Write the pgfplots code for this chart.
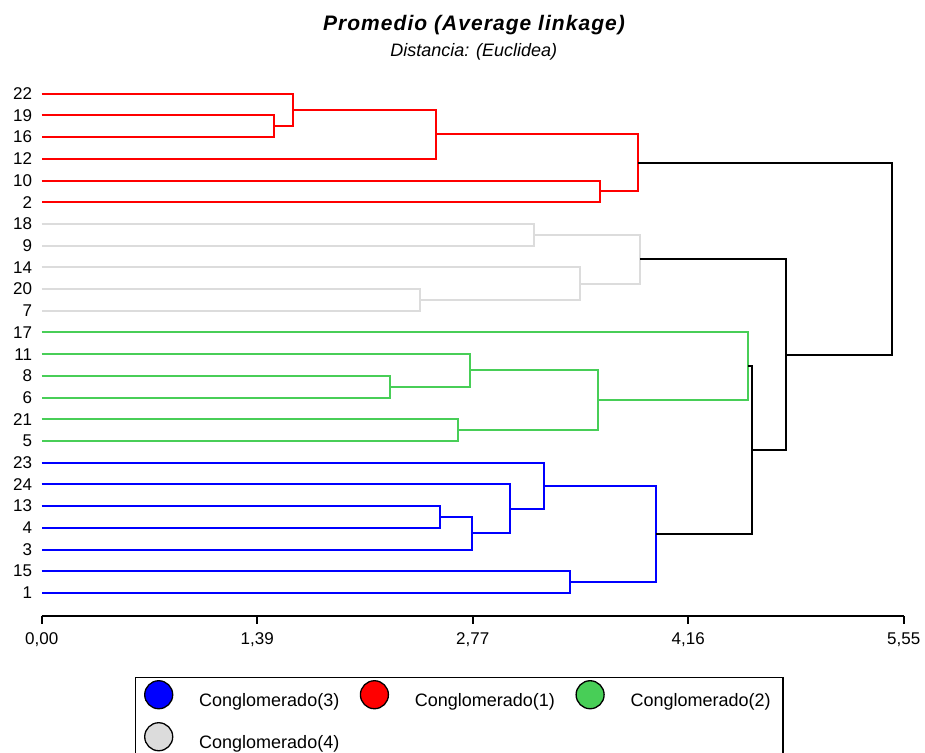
\documentclass[border=0pt]{standalone}
\usepackage{fontspec}
\setmainfont{Liberation Sans}
\usepackage{pgfplots}
\pgfplotsset{compat=1.18}
\definecolor{cgreen}{RGB}{72,206,87}
\definecolor{cgrey}{RGB}{220,220,220}
\begin{document}
\begin{tikzpicture}
\useasboundingbox (0,0) rectangle (925pt,752pt);
\begin{axis}[
 at={(41.7pt,136.3pt)}, anchor=south west,
 scale only axis, width=862pt, height=543.7pt,
 xmin=0, xmax=5.55, ymin=0, ymax=25.05, y dir=reverse,
 clip=false,
 axis x line*=bottom,
 x axis line style={-, line width=1.8pt},
 y axis line style={draw=none},
 xtick={0,1.3875,2.775,4.1625,5.55},
 xticklabels={{0,00},{1,39},{2,77},{4,16},{5,55}},
 ytick={1,...,24},
 yticklabels={22,19,16,12,10,2,18,9,14,20,7,17,11,8,6,21,5,23,24,13,4,3,15,1},
 xtick style={line width=1.8pt, black},
 ytick style={draw=none},
 tick align=outside, major tick length=8pt,
 xticklabel style={inner sep=0pt, anchor=north, yshift=-9pt, font=\fontsize{17}{20}\selectfont},
 yticklabel style={inner sep=0pt, anchor=east, xshift=-1.4pt, font=\fontsize{17}{20}\selectfont},
 /pgf/number format/assume math mode=true,
 every axis plot/.append style={line width=2pt, mark=none},
 legend columns=3, legend cell align=left,
 legend style={at={(0.1082,-0.1127)}, anchor=north west, inner xsep=0pt, inner ysep=0pt,
   draw=black, line width=1.5pt, font=\fontsize{18}{21}\selectfont,
   column sep=0pt, row sep=0pt, nodes={inner sep=2pt}},
]
% Cluster 1 (red)
\addplot[red, forget plot] coordinates {(0,2) (1.496,2) (1.496,3) (0,3)};
\addplot[red, forget plot] coordinates {(0,1) (1.620,1) (1.620,2.5) (1.496,2.5)};
\addplot[red, forget plot] coordinates {(1.620,1.75) (2.537,1.75) (2.537,4) (0,4)};
\addplot[red, forget plot] coordinates {(0,5) (3.593,5) (3.593,6) (0,6)};
\addplot[red, forget plot] coordinates {(2.537,2.875) (3.838,2.875) (3.838,5.5) (3.593,5.5)};
% Cluster 4 (grey)
\addplot[cgrey, forget plot] coordinates {(0,7) (3.168,7) (3.168,8) (0,8)};
\addplot[cgrey, forget plot] coordinates {(0,10) (2.434,10) (2.434,11) (0,11)};
\addplot[cgrey, forget plot] coordinates {(0,9) (3.464,9) (3.464,10.5) (2.434,10.5)};
\addplot[cgrey, forget plot] coordinates {(3.168,7.5) (3.851,7.5) (3.851,9.75) (3.464,9.75)};
% Cluster 2 (green)
\addplot[cgreen, forget plot] coordinates {(0,14) (2.243,14) (2.243,15) (0,15)};
\addplot[cgreen, forget plot] coordinates {(0,13) (2.758,13) (2.758,14.5) (2.243,14.5)};
\addplot[cgreen, forget plot] coordinates {(0,16) (2.679,16) (2.679,17) (0,17)};
\addplot[cgreen, forget plot] coordinates {(2.758,13.75) (3.582,13.75) (3.582,16.5) (2.679,16.5)};
\addplot[cgreen, forget plot] coordinates {(0,12) (4.548,12) (4.548,15.125) (3.582,15.125)};
% Cluster 3 (blue)
\addplot[blue, forget plot] coordinates {(0,20) (2.565,20) (2.565,21) (0,21)};
\addplot[blue, forget plot] coordinates {(2.565,20.5) (2.771,20.5) (2.771,22) (0,22)};
\addplot[blue, forget plot] coordinates {(0,19) (3.015,19) (3.015,21.25) (2.771,21.25)};
\addplot[blue, forget plot] coordinates {(0,18) (3.235,18) (3.235,20.125) (3.015,20.125)};
\addplot[blue, forget plot] coordinates {(0,23) (3.402,23) (3.402,24) (0,24)};
\addplot[blue, forget plot] coordinates {(3.235,19.0625) (3.956,19.0625) (3.956,23.5) (3.402,23.5)};
% Upper links (black)
\addplot[black, forget plot] coordinates {(4.548,13.5625) (4.574,13.5625) (4.574,21.28125) (3.956,21.28125)};
\addplot[black, forget plot] coordinates {(3.851,8.625) (4.793,8.625) (4.793,17.421875) (4.574,17.421875)};
\addplot[black, forget plot] coordinates {(3.838,4.1875) (5.477,4.1875) (5.477,13.0234) (4.793,13.0234)};
% Legend
\addlegendimage{legend image code/.code={\path[draw=none] (0pt,-19pt) rectangle (61.5pt,23pt); \draw[black, line width=1.3pt, fill=blue] (23pt,6pt) circle [radius=14pt];}}
\addlegendentry{\makebox[150.2pt][l]{Conglomerado(3)}}
\addlegendimage{legend image code/.code={\path[draw=none] (0pt,-19pt) rectangle (61.5pt,23pt); \draw[black, line width=1.3pt, fill=red] (23pt,6pt) circle [radius=14pt];}}
\addlegendentry{\makebox[150.2pt][l]{Conglomerado(1)}}
\addlegendimage{legend image code/.code={\path[draw=none] (0pt,-19pt) rectangle (61.5pt,23pt); \draw[black, line width=1.3pt, fill=cgreen] (23pt,6pt) circle [radius=14pt];}}
\addlegendentry{\makebox[150.2pt][l]{Conglomerado(2)}}
\addlegendimage{legend image code/.code={\path[draw=none] (0pt,-19pt) rectangle (61.5pt,23pt); \draw[black, line width=1.3pt, fill=cgrey] (23pt,6pt) circle [radius=14pt];}}
\addlegendentry{\makebox[150.2pt][l]{Conglomerado(4)}}
\end{axis}
\node[anchor=base, font=\fontsize{21}{24}\selectfont\bfseries\itshape\addfontfeatures{LetterSpace=5}] at (474pt,721.3pt) {Promedio (Average linkage)};
\node[anchor=base, font=\fontsize{18}{21}\selectfont\itshape] at (473.8pt,695.3pt) {Distancia: (Euclidea)};
\end{tikzpicture}
\end{document}
